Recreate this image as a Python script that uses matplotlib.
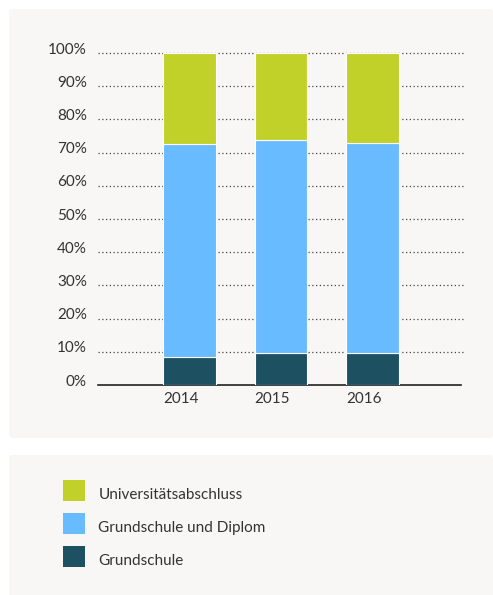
import numpy as np
import matplotlib.pyplot as plt
import matplotlib.transforms as mtransforms
from matplotlib.patches import FancyBboxPatch

plt.rcParams['font.family'] = ['Lato', 'DejaVu Sans']

# Daten
jahre = ['2014', '2015', '2016']
grundschule = [8.5, 9.5, 9.5]
grund_diplom = [64.0, 64.2, 63.3]
uni = [27.5, 26.3, 27.2]
ticks_y = [0, 10, 20, 30, 40, 50, 60, 70, 80, 90, 100]

c_uni = '#c2d12a'
c_dip = '#69bbff'
c_grund = '#1d5162'
bg = '#f8f7f5'
txt = '#333333'

W, H = 493, 595
fig = plt.figure(figsize=(W / 100, H / 100), dpi=100)
fig.patch.set_facecolor('white')

# Hintergrundflächen
def panel(x0, y0, x1, y1):
    p = FancyBboxPatch((x0 / W, 1 - y1 / H), (x1 - x0) / W, (y1 - y0) / H,
                       boxstyle='round,pad=0,rounding_size=0.006',
                       transform=fig.transFigure, facecolor=bg, edgecolor='none', zorder=0)
    fig.add_artist(p)

panel(9, 9, 493, 438)
panel(9, 455, 493, 600)

ax = fig.add_axes([98 / W, 1 - 385 / H, (464 - 98) / W, (385 - 53) / H])
ax.set_facecolor('none')

x = np.arange(len(jahre))
w = 0.575
b1 = ax.bar(x, grundschule, w, color=c_grund, edgecolor='white', linewidth=0.8, zorder=3,
            label='Grundschule')
b2 = ax.bar(x, grund_diplom, w, bottom=grundschule, color=c_dip, edgecolor='white',
            linewidth=0.8, zorder=3, label='Grundschule und Diplom')
unten = np.array(grundschule) + np.array(grund_diplom)
b3 = ax.bar(x, uni, w, bottom=unten, color=c_uni, edgecolor='white', linewidth=0.8,
            zorder=3, label='Universitätsabschluss')

ax.set_xlim(-1, 3)
ax.set_ylim(0, 100)
for t in ticks_y[1:]:
    ax.axhline(t, color='#444444', linestyle=(0, (1, 2)), linewidth=0.9, zorder=1, clip_on=False)

for s in ['top', 'right', 'left']:
    ax.spines[s].set_visible(False)
ax.spines['bottom'].set_color('#222222')
ax.spines['bottom'].set_linewidth(1.2)
ax.spines['bottom'].set_bounds(-1, 2.97)

ax.set_yticks(ticks_y)
ax.set_yticklabels([f'{t}%' for t in ticks_y], fontsize=11, color=txt)
ax.set_xticks(x - w / 2)
ax.set_xticklabels(jahre, fontsize=11, color=txt, ha='left')
ax.tick_params(axis='both', length=0)
ax.tick_params(axis='y', pad=8)
ax.tick_params(axis='x', pad=5)

# Beschriftungen etwas über der Linie
hoch = mtransforms.ScaledTranslation(0, 5 / 100, fig.dpi_scale_trans)
for lab in ax.get_yticklabels():
    lab.set_transform(lab.get_transform() + hoch)

leg = fig.legend(handles=[b3, b2, b1], labels=['Universitätsabschluss', 'Grundschule und Diplom', 'Grundschule'],
                 loc='upper left', bbox_to_anchor=(57 / W, 1 - 474 / H), borderaxespad=0,
                 frameon=False, fontsize=11, handlelength=1.45, handleheight=1.75,
                 handletextpad=0.85, labelspacing=0.78, labelcolor=txt)
for h in leg.legend_handles:
    h.set_edgecolor('none')
# Text etwas tiefer als die Kästchen
runter = mtransforms.ScaledTranslation(0, -3 / 100, fig.dpi_scale_trans)
for t in leg.get_texts():
    t.set_transform(t.get_transform() + runter)

fig.savefig('out.png', dpi=100, facecolor='white')
